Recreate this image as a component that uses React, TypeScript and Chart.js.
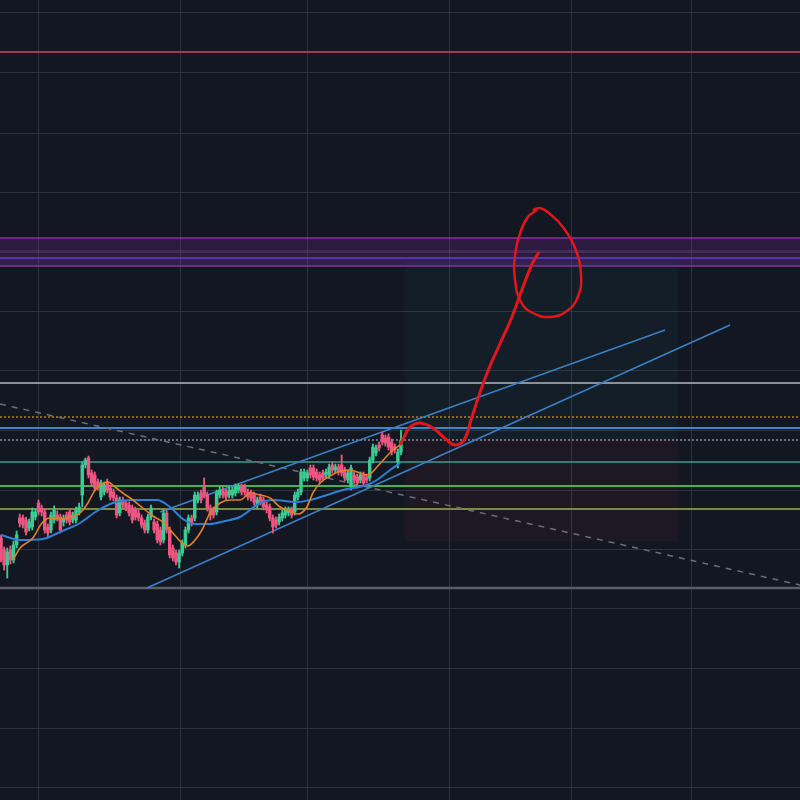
import React, { useEffect, useRef } from "react";
import { Chart, registerables } from "chart.js";

Chart.register(...registerables);

// ---- Candles (index = bar number) ----
const candleOpen = [
  26.2, 25.0, 23.5, 25.0, 24.0, 25.5, 28.2, 28.2, 28.0, 27.2,
  27.3, 28.3, 29.7, 29.2, 28.8, 27.3, 27.0, 28.0, 28.5, 28.3,
  27.8, 28.5, 28.8, 28.0, 28.0, 28.8, 30.5, 33.5, 34.2, 32.7,
  32.5, 31.8, 30.3, 30.8, 31.8, 31.2, 30.8, 30.2, 28.7, 30.0,
  29.7, 29.5, 29.2, 29.0, 28.7, 28.2, 27.7, 27.0, 28.3, 27.8,
  27.6, 27.0, 26.0, 28.7, 27.0, 25.2, 24.7, 23.8, 24.7, 25.5,
  27.0, 28.2, 28.2, 30.0, 30.7, 31.3, 30.5, 29.2, 29.0, 28.8,
  30.5, 31.0, 30.8, 30.5, 30.5, 30.7, 31.0, 31.3, 31.3, 30.8,
  30.7, 30.5, 29.5, 30.3, 30.0, 29.5, 29.3, 28.2, 28.0, 27.8,
  28.2, 28.5, 28.7, 29.0, 28.8, 30.3, 30.8, 32.2, 32.2, 33.2,
  33.2, 32.8, 32.5, 32.7, 32.5, 32.5, 33.5, 33.0, 33.3, 33.5,
  33.0, 32.0, 31.3, 32.5, 32.3, 32.0, 32.5, 32.3, 32.2, 34.0,
  34.7, 35.5, 36.5, 36.2, 36.3, 35.8, 35.3, 33.8, 34.8,
];
const candleHigh = [
  26.5, 25.3, 25.2, 25.4, 25.9, 26.9, 28.6, 28.5, 28.3, 28.1,
  29.2, 29.1, 30.0, 29.5, 29.1, 27.6, 28.8, 29.4, 28.9, 28.6,
  28.5, 28.8, 29.1, 28.8, 29.3, 29.7, 33.8, 34.2, 34.4, 33.0,
  32.8, 32.1, 32.0, 31.8, 32.1, 31.5, 31.1, 30.5, 30.3, 30.3,
  30.0, 29.8, 29.5, 29.3, 29.0, 28.5, 28.0, 28.6, 29.5, 28.1,
  27.9, 27.3, 29.0, 29.0, 27.3, 25.5, 25.0, 25.0, 26.0, 27.3,
  28.5, 28.5, 30.8, 30.8, 31.0, 32.2, 30.8, 29.5, 29.3, 31.0,
  31.3, 31.3, 31.1, 31.3, 31.3, 31.6, 31.6, 31.6, 31.6, 31.1,
  31.0, 30.8, 30.3, 30.6, 30.3, 29.8, 29.6, 28.5, 28.3, 28.6,
  29.0, 29.3, 29.3, 29.3, 30.8, 31.1, 33.1, 33.1, 33.0, 33.5,
  33.5, 33.1, 32.8, 33.0, 33.1, 33.6, 33.8, 33.6, 33.6, 34.5,
  33.3, 33.0, 33.5, 32.8, 32.6, 32.8, 32.8, 32.6, 34.3, 35.6,
  35.5, 35.8, 36.8, 36.5, 36.6, 36.1, 35.6, 35.1, 37.0,
];
const candleLow = [
  23.8, 23.0, 22.2, 23.6, 23.7, 25.2, 27.3, 27.2, 26.5, 26.9,
  27.0, 28.0, 28.5, 28.4, 26.7, 26.3, 26.7, 27.7, 27.9, 26.7,
  27.4, 27.7, 27.5, 27.7, 27.7, 28.5, 29.3, 33.2, 32.2, 31.4,
  30.9, 31.0, 30.0, 30.5, 30.7, 30.0, 29.9, 28.2, 28.4, 29.2,
  28.9, 28.4, 27.7, 28.0, 27.9, 27.2, 26.7, 26.7, 28.0, 26.7,
  25.7, 25.5, 25.7, 26.7, 24.2, 23.9, 23.5, 23.2, 24.4, 25.2,
  26.7, 27.4, 27.9, 29.7, 29.7, 30.2, 28.9, 28.0, 28.2, 28.5,
  30.2, 30.2, 30.0, 30.2, 30.2, 30.4, 30.7, 30.5, 30.5, 30.0,
  29.9, 29.5, 29.2, 29.5, 29.0, 28.7, 27.9, 26.7, 27.2, 27.5,
  27.9, 28.2, 28.4, 28.2, 28.5, 30.0, 30.5, 31.9, 31.9, 32.2,
  32.0, 31.9, 31.7, 31.9, 32.2, 32.2, 32.7, 32.7, 32.5, 32.4,
  31.9, 31.7, 31.0, 31.7, 31.4, 31.7, 31.4, 31.7, 31.9, 33.7,
  34.4, 34.9, 35.5, 35.4, 35.0, 34.5, 34.7, 33.2, 34.5,
];
const candleClose = [
  24.0, 23.5, 24.8, 24.0, 25.5, 26.5, 27.7, 27.5, 26.8, 27.8,
  28.8, 28.8, 28.8, 28.8, 27.0, 26.7, 28.5, 29.0, 28.2, 27.0,
  28.2, 28.0, 27.8, 28.5, 29.0, 29.3, 33.5, 34.0, 32.5, 31.7,
  31.2, 31.3, 31.7, 31.5, 31.0, 30.3, 30.2, 28.5, 30.0, 29.5,
  29.2, 28.7, 28.0, 28.3, 28.2, 27.5, 27.0, 28.3, 29.2, 27.0,
  26.0, 25.8, 28.7, 27.0, 24.5, 24.2, 23.8, 24.7, 25.7, 27.0,
  28.2, 27.7, 30.5, 30.5, 30.0, 30.5, 29.2, 28.5, 28.5, 30.7,
  31.0, 30.5, 30.3, 31.0, 31.0, 31.3, 31.3, 30.8, 30.8, 30.3,
  30.2, 29.8, 30.0, 29.8, 29.3, 29.0, 28.2, 27.3, 27.5, 28.3,
  28.7, 29.0, 29.0, 28.5, 30.5, 30.8, 32.8, 32.8, 32.7, 32.5,
  32.3, 32.2, 32.0, 32.2, 32.8, 33.3, 33.0, 33.3, 32.8, 32.7,
  32.2, 32.7, 33.2, 32.0, 31.7, 32.5, 31.7, 32.0, 34.0, 35.3,
  35.2, 35.2, 35.8, 35.7, 35.3, 34.8, 35.0, 34.8, 36.0,
];

// ---- Moving averages (bar index, price) ----
const fastMaX = [3.8, 6.1, 10.2, 13.1, 15.7, 18.9, 22.1, 25.3, 27.8, 30.1, 32.3, 34.2, 36.5, 39.0, 42.2, 45.4, 48.6, 51.8, 55.0, 57.9, 59.8, 62.1, 64.3, 66.9, 70.1, 73.3, 76.5, 79.7, 82.9, 86.1, 89.3, 92.5, 95.0, 97.9, 99.8, 102.1, 105.3, 108.5, 111.7, 114.9, 117.4, 120.3, 123.5, 125.4, 127.7];
const fastMaY = [24.0, 25.2, 26.2, 27.7, 28.2, 28.1, 28.3, 28.7, 29.7, 31.0, 31.6, 31.8, 31.3, 30.7, 30.0, 29.2, 28.4, 27.8, 26.7, 25.7, 25.4, 26.0, 27.0, 28.7, 29.7, 30.0, 30.0, 30.7, 30.5, 30.2, 29.3, 28.9, 28.6, 29.3, 30.7, 31.7, 32.4, 32.9, 33.0, 32.7, 32.5, 33.3, 34.4, 35.0, 35.5];
const slowMaX = [0, 6.1, 13.4, 18.9, 25.3, 30.7, 35.8, 42.2, 49.9, 54.1, 58.2, 62.1, 66.9, 71.7, 76.5, 82.9, 87.0, 94.7, 98.9, 104.3, 109.4, 117.1, 120.3, 124.5, 127.7];
const slowMaY = [26.5, 26.0, 26.1, 26.8, 27.7, 28.9, 29.7, 30.0, 30.0, 29.3, 28.1, 27.6, 27.6, 27.9, 28.3, 29.7, 30.0, 29.8, 30.0, 30.5, 31.0, 31.5, 32.0, 33.0, 33.7];

// ---- Horizontal levels ----
const levelPrices = [74.8, 41.7, 38.3, 37.2, 36.0, 33.8, 31.4, 29.1, 21.2];
const levelColors = ["#a8384c", "#8c8f98", "#b0832e", "#3f86c7", "#8a8d96", "#3a9f90", "#4caf50", "#9db548", "#5b5e69"];
const levelWidths = [2, 2, 1.5, 2, 1.5, 1.5, 2, 1.5, 2.5];
const levelDashed = [false, false, true, false, true, false, false, false, false];

// supply zone (purple)
const zoneTop = 56.2;
const zoneBottom = 53.4;
const zoneInner = [54.9, 54.2];

// ---- Trend lines [x1, y1, x2, y2] ----
const upperChannel = [50.9, 28.8, 212.5, 47.0];
const lowerChannel = [46.7, 21.2, 233.3, 47.5];
const downTrend = [-0.32, 39.6, 255.7, 21.5];

// ---- Long position tool ----
const posStartX = 129.3;
const posEndX = 216.6;
const posTarget = 53.8;
const posEntry = 36.0;
const posStop = 25.9;

// ---- Hand drawn projection ----
const projX = [127.7, 129.0, 130.9, 134.1, 138.2, 142.7, 145.3, 148.2, 150.6, 153.0, 156.2, 159.5, 163.5, 166.9, 170.1, 172.2];
const projY = [35.5, 36.3, 37.3, 37.7, 37.2, 36.0, 35.5, 36.0, 38.2, 40.5, 43.2, 45.5, 48.3, 51.2, 53.7, 54.8];
const loopX = [170.2, 172.5, 175.7, 179.8, 183.7, 185.6, 184.6, 181.1, 175.7, 170.2, 166.4, 164.5, 164.5, 166.1, 168.6, 171.5];
const loopY = [59.0, 59.2, 58.6, 57.3, 55.2, 52.5, 50.3, 48.9, 48.3, 48.7, 49.8, 52.0, 54.5, 56.7, 58.3, 59.0];

// ---- Axes / grid ----
const xMin = -0.32;
const xMax = 255.68;
const yMin = 0;
const yMax = 80;
const xGrid = [11.84, 57.28, 98.24, 143.36, 182.4, 220.8];
const yGrid = [1.3, 7.2, 13.2, 19.2, 25.1, 31.0, 37.0, 43.0, 48.9, 54.8, 60.8, 66.7, 72.7, 78.7];

const UP = "#3ccb92";
const DOWN = "#ef5580";

const pts = (xs: number[], ys: number[]) => xs.map((x, i) => ({ x, y: ys[i] }));

export default function App() {
  const ref = useRef<HTMLCanvasElement>(null);

  useEffect(() => {
    if (!ref.current) return;
    const colors = candleOpen.map((o, i) => (candleClose[i] >= o ? UP : DOWN));
    const datasets: any[] = [];

    const hline = (y: number, color: string, width: number, dash: boolean, order: number) => ({
      type: "line",
      data: [{ x: xMin, y }, { x: xMax, y }],
      borderColor: color,
      borderWidth: width,
      borderDash: dash ? [2, 2] : [],
      pointRadius: 0,
      fill: false,
      order,
    });

    // position tool boxes
    datasets.push({
      type: "line",
      data: [{ x: posStartX, y: posTarget }, { x: posEndX, y: posTarget }],
      borderWidth: 0,
      pointRadius: 0,
      fill: { value: posEntry },
      backgroundColor: "rgba(40,130,140,0.07)",
      order: 20,
    });
    datasets.push({
      type: "line",
      data: [{ x: posStartX, y: posEntry }, { x: posEndX, y: posEntry }],
      borderWidth: 0,
      pointRadius: 0,
      fill: { value: posStop },
      backgroundColor: "rgba(160,40,80,0.08)",
      order: 20,
    });
    // purple zone
    datasets.push({
      type: "line",
      data: [{ x: xMin, y: zoneTop }, { x: xMax, y: zoneTop }],
      borderColor: "rgba(170,60,190,0.75)",
      borderWidth: 1.5,
      pointRadius: 0,
      fill: { value: zoneBottom },
      backgroundColor: "rgba(140,45,170,0.22)",
      order: 19,
    });
    datasets.push({
      type: "line",
      data: [{ x: xMin, y: zoneBottom }, { x: xMax, y: zoneBottom }],
      borderColor: "rgba(170,60,190,0.75)",
      borderWidth: 1.5,
      pointRadius: 0,
      fill: { value: zoneInner[1] },
      backgroundColor: "rgba(70,60,190,0.12)",
      order: 19,
    });
    datasets.push(hline(zoneInner[0], "rgba(150,120,180,0.35)", 1, false, 18));
    datasets.push(hline(zoneInner[1], "rgba(95,60,200,0.8)", 2, false, 18));

    levelPrices.forEach((p, i) => datasets.push(hline(p, levelColors[i], levelWidths[i], levelDashed[i], 15)));

    // trend lines
    const seg = (a: number[], color: string, width: number, dash: number[], order: number) => ({
      type: "line",
      data: [{ x: a[0], y: a[1] }, { x: a[2], y: a[3] }],
      borderColor: color,
      borderWidth: width,
      borderDash: dash,
      pointRadius: 0,
      fill: false,
      order,
    });
    datasets.push(seg(downTrend, "#6b6e78", 1.5, [6, 6], 14));
    datasets.push(seg(upperChannel, "#3a80c6", 1.5, [], 5));
    datasets.push(seg(lowerChannel, "#3a80c6", 1.5, [], 5));

    // candles
    datasets.push({
      type: "bar",
      data: candleOpen.map((_, i) => ({ x: i, y: [candleLow[i], candleHigh[i]] })),
      backgroundColor: colors,
      barThickness: 1.2,
      grouped: false,
      order: 4,
    });
    datasets.push({
      type: "bar",
      data: candleOpen.map((o, i) => ({ x: i, y: [o, candleClose[i]] })),
      backgroundColor: colors,
      barThickness: 2.8,
      grouped: false,
      order: 3,
    });

    // moving averages
    datasets.push({
      type: "line",
      data: pts(slowMaX, slowMaY),
      borderColor: "#2e7fd6",
      borderWidth: 2,
      pointRadius: 0,
      tension: 0.4,
      cubicInterpolationMode: "monotone",
      fill: false,
      order: 2,
    });
    datasets.push({
      type: "line",
      data: pts(fastMaX, fastMaY),
      borderColor: "#e47f27",
      borderWidth: 1.6,
      pointRadius: 0,
      tension: 0.4,
      cubicInterpolationMode: "monotone",
      fill: false,
      order: 1,
    });

    // hand drawing
    datasets.push({
      type: "line",
      data: pts(projX, projY),
      borderColor: "#e3171b",
      borderWidth: 3,
      pointRadius: 0,
      tension: 0.4,
      fill: false,
      order: 0,
    });
    datasets.push({
      type: "line",
      data: pts(loopX, loopY),
      borderColor: "#e3171b",
      borderWidth: 2.5,
      pointRadius: 0,
      tension: 0.45,
      fill: false,
      order: 0,
    });

    const gridColor = "#2e323d";
    const chart = new Chart(ref.current, {
      type: "line",
      data: { datasets },
      options: {
        animation: false,
        responsive: false,
        maintainAspectRatio: false,
        events: [],
        layout: { padding: 0, autoPadding: false },
        plugins: { legend: { display: false }, tooltip: { enabled: false } },
        scales: {
          x: {
            type: "linear",
            min: xMin,
            max: xMax,
            offset: false,
            ticks: { display: false },
            grid: { color: gridColor, drawTicks: false, lineWidth: 1, offset: false },
            border: { display: false },
            afterBuildTicks: (s: any) => {
              s.ticks = xGrid.map((v) => ({ value: v }));
            },
          },
          y: {
            type: "linear",
            min: yMin,
            max: yMax,
            ticks: { display: false },
            grid: { color: gridColor, drawTicks: false, lineWidth: 1 },
            border: { display: false },
            afterBuildTicks: (s: any) => {
              s.ticks = yGrid.map((v) => ({ value: v }));
            },
          },
        },
      } as any,
    });
    return () => chart.destroy();
  }, []);

  return (
    <div style={{ position: "fixed", left: 0, top: 0, width: 800, height: 800, background: "#131722" }}>
      <canvas ref={ref} width={800} height={800} style={{ display: "block" }} />
    </div>
  );
}
